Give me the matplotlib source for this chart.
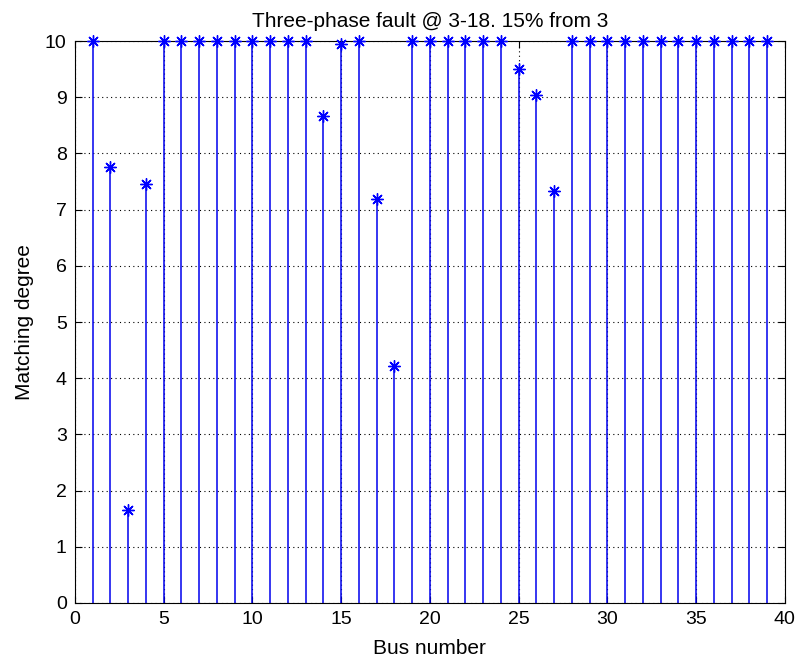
import matplotlib
matplotlib.use("Agg")
import matplotlib.pyplot as plt
import numpy as np

plt.rcParams['font.family'] = ['Liberation Sans', 'DejaVu Sans']

bus = list(range(1, 40))
degree = [10, 7.75, 1.65, 7.45, 10, 10, 10, 10, 10, 10,
          10, 10, 10, 8.67, 9.95, 10, 7.19, 4.22, 10, 10,
          10, 10, 10, 10, 9.50, 9.04, 7.34, 10, 10, 10,
          10, 10, 10, 10, 10, 10, 10, 10, 10]
xticks = [0, 5, 10, 15, 20, 25, 30, 35, 40]
yticks = list(range(0, 11))

fig = plt.figure(figsize=(7.96, 6.64), dpi=100)
ax = fig.add_axes([0.0942, 0.0919, 0.8918, 0.8463])

ax.set_xlim(0, 40)
ax.set_ylim(0, 10)
ax.set_xticks(xticks)
ax.set_yticks(yticks)
ax.grid(True, linestyle=(0, (1, 3)), color='black', linewidth=0.8, zorder=0)
ax.set_axisbelow(True)

ax.vlines(bus, 0, degree, colors='#0000ee', linewidth=1.1, zorder=2)
ax.scatter(bus, degree, marker=(8, 2, 0), s=70, color='#0000ff', linewidths=1.0, zorder=3, clip_on=False)
ax.scatter(bus, degree, marker='o', s=6, color='#0000ff', linewidths=0, zorder=3, clip_on=False)

ax.tick_params(direction='in', top=True, right=True, labelsize=14, length=5, width=0.8)
ax.tick_params(axis='x', pad=6)
ax.tick_params(axis='y', pad=6)
for s in ax.spines.values():
    s.set_linewidth(0.8)

ax.set_title('Three-phase fault @ 3-18. 15% from 3', fontsize=15, pad=10)
ax.set_xlabel('Bus number', fontsize=15, labelpad=8)
ax.set_ylabel('Matching degree', fontsize=15, labelpad=8)

fig.savefig('out.png', dpi=100)
